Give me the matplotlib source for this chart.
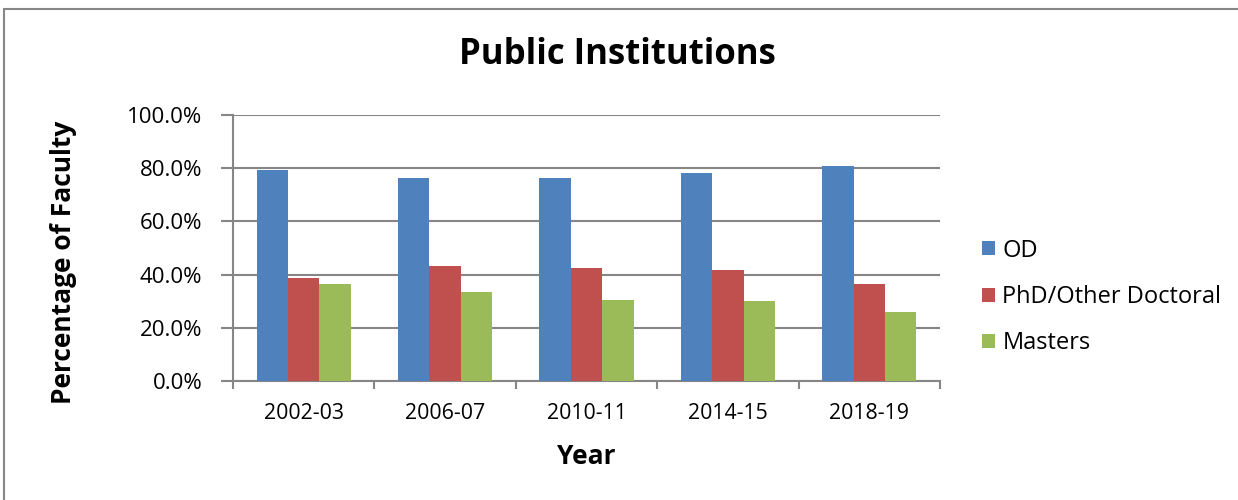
import numpy as np
import matplotlib.pyplot as plt
from matplotlib.patches import Rectangle

plt.rcParams['font.family'] = ['Open Sans', 'DejaVu Sans']

years = ['2002-03', '2006-07', '2010-11', '2014-15', '2018-19']
od = [79.4, 76.3, 76.4, 78.3, 80.9]
phd = [38.6, 43.3, 42.6, 41.6, 36.3]
masters = [36.6, 33.6, 30.4, 30.1, 26.1]

series = [('OD', od, '#4F81BD'),
          ('PhD/Other Doctoral', phd, '#C0504D'),
          ('Masters', masters, '#9BBB59')]

fig = plt.figure(figsize=(12.38, 5), dpi=100)
# outer chart border (right/bottom run off the image)
fig.patches.append(Rectangle((3.5 / 1238, -0.05), 1.1, 1.05 - 9 / 500,
                             transform=fig.transFigure, fill=False,
                             edgecolor='#868686', linewidth=1.5))

ax = fig.add_axes([233 / 1238, 1 - 381 / 500, 707 / 1238, 266 / 500])

x = np.arange(len(years))
w = 0.222
for i, (name, vals, col) in enumerate(series):
    ax.bar(x + (i - 1) * w, vals, w, color=col, label=name, zorder=3)

ax.set_xlim(-0.5, len(years) - 0.5)
ax.set_ylim(0, 100)
ax.set_yticks(np.arange(0, 101, 20))
ax.set_yticklabels(['%.1f%%' % v for v in np.arange(0, 101, 20)], fontsize=16)
ax.set_xticks(x)
ax.set_xticklabels(years, fontsize=15.3)
ax.set_xticks(np.arange(-0.5, len(years)), minor=True)
ax.tick_params(axis='x', which='major', length=0, pad=16)
ax.tick_params(axis='x', which='minor', length=6, width=1.5, color='#868686', direction='out')
ax.tick_params(axis='y', length=9, width=1.5, color='#868686', direction='out', pad=13)

ax.grid(axis='y', color='#868686', linewidth=1.5, zorder=0)
for s in ['top', 'right']:
    ax.spines[s].set_visible(False)
for s in ['left', 'bottom']:
    ax.spines[s].set_color('#868686')
    ax.spines[s].set_linewidth(1.5)

ax.set_xlabel('Year', fontsize=19, fontweight='bold', va='center')
ax.xaxis.set_label_coords(0.5, -(457 - 381) / 266)
ax.set_ylabel('Percentage of Faculty', fontsize=19, fontweight='bold', va='center')
ax.yaxis.set_label_coords(-(233 - 64) / 707, (381 - 262) / 266)
fig.text(0.499, 1 - 55 / 500, 'Public Institutions', fontsize=25, fontweight='bold',
         ha='center', va='center')

fig.legend(loc='center left', bbox_to_anchor=(961 / 1238, 1 - 297 / 500),
           frameon=False, fontsize=17, handlelength=0.55, handleheight=0.55,
           handletextpad=0.3, labelspacing=0.95)

fig.savefig('out.png', dpi=100)
